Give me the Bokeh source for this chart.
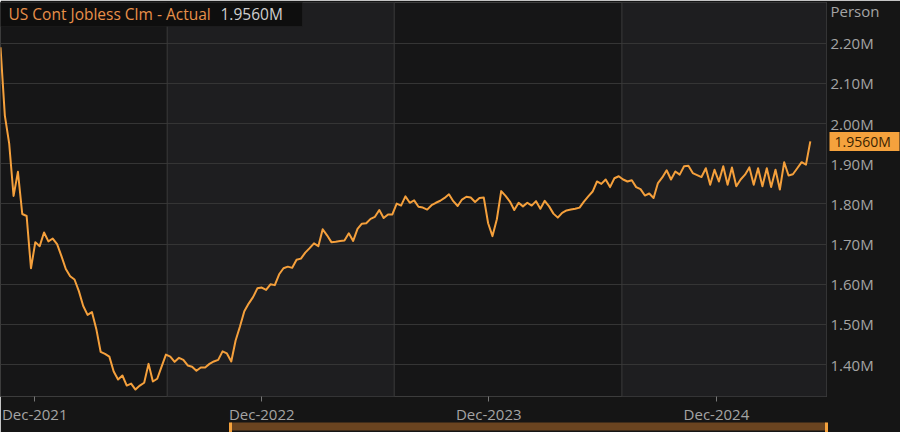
import pandas as pd
from bokeh.plotting import figure
from bokeh.models import (Range1d, FixedTicker, PrintfTickFormatter, DatetimeTickFormatter,
                          BoxAnnotation, Span, Label, LinearAxis, DatetimeAxis)
from bokeh.embed import file_html
from bokeh.resources import INLINE

# ---------------- data ----------------
series_name = "US Cont Jobless Clm - Actual"
unit_label = "Person"
first_week = "2021-11-06"          # week-ending date of the first weekly value
values = [
    2.190, 2.020, 1.950, 1.820, 1.880, 1.775, 1.770, 1.640, 1.705, 1.695,
    1.729, 1.707, 1.714, 1.700, 1.670, 1.638, 1.620, 1.612, 1.583, 1.546,
    1.524, 1.531, 1.489, 1.432, 1.427, 1.420, 1.383, 1.363, 1.373, 1.348,
    1.353, 1.338, 1.348, 1.355, 1.402, 1.358, 1.365, 1.395, 1.425, 1.420,
    1.407, 1.417, 1.412, 1.398, 1.395, 1.385, 1.393, 1.393, 1.402, 1.408,
    1.412, 1.433, 1.428, 1.408, 1.460, 1.495, 1.533, 1.552, 1.568, 1.590,
    1.592, 1.586, 1.600, 1.598, 1.625, 1.640, 1.644, 1.641, 1.661, 1.664,
    1.679, 1.690, 1.702, 1.695, 1.737, 1.722, 1.705, 1.706, 1.708, 1.709,
    1.727, 1.708, 1.738, 1.751, 1.752, 1.763, 1.768, 1.785, 1.765, 1.774,
    1.774, 1.801, 1.796, 1.819, 1.803, 1.809, 1.793, 1.791, 1.786, 1.797,
    1.803, 1.808, 1.815, 1.824, 1.807, 1.795, 1.811, 1.818, 1.816, 1.805,
    1.815, 1.816, 1.752, 1.720, 1.762, 1.832, 1.820, 1.806, 1.785, 1.803,
    1.794, 1.803, 1.796, 1.807, 1.788, 1.808, 1.794, 1.776, 1.766, 1.778,
    1.784, 1.786, 1.788, 1.791, 1.806, 1.819, 1.831, 1.856, 1.850, 1.861,
    1.842, 1.864, 1.869, 1.861, 1.856, 1.859, 1.842, 1.837, 1.821, 1.826,
    1.815, 1.852, 1.866, 1.884, 1.861, 1.881, 1.873, 1.894, 1.895, 1.877,
    1.872, 1.867, 1.889, 1.848, 1.885, 1.856, 1.894, 1.848, 1.891, 1.844,
    1.861, 1.873, 1.891, 1.848, 1.889, 1.844, 1.889, 1.842, 1.885, 1.836,
    1.904, 1.871, 1.874, 1.889, 1.904, 1.898, 1.956,
]
x_tick_dates = ["2021-12-31", "2022-12-31", "2023-12-31", "2024-12-31"]
y_ticks = [1.40, 1.50, 1.60, 1.70, 1.80, 1.90, 2.00, 2.10, 2.20]
band_edges = ["2022-08-01", "2023-08-01", "2024-08-01"]
nav_window = ["2022-11-10", "2025-06-26"]
x_view = ["2021-11-06", "2025-06-26"]
y_view = [1.32074, 2.30155]

dates = pd.date_range(first_week, periods=len(values), freq="7D")
last = values[-1]


def ms(d):
    return pd.Timestamp(d).value / 1e6


# ---------------- styling ----------------
W, H = 900, 432
TB, RB, BB = 2, 74, 34
FW, FH = W - RB, H - TB - BB
FONT = "Open Sans"
AXIS_COL = "#a4a4a4"
LINE_COL = "#f5a03c"
ORANGE = "#f5a23d"
px_per_unit = FH / (y_view[1] - y_view[0])
person_tick = round(y_view[1] - 8 / px_per_unit, 4)

p = figure(width=W, height=H, x_axis_type="datetime", y_axis_location="right",
           x_range=Range1d(pd.Timestamp(x_view[0]), pd.Timestamp(x_view[1])),
           y_range=Range1d(*y_view), output_backend="svg", toolbar_location=None,
           min_border_left=0, min_border_top=TB, min_border_right=RB,
           min_border_bottom=BB, background_fill_color="#161617",
           border_fill_color="#151515", outline_line_color="#3c3c3c")

# alternating background bands
light_spans = [(band_edges[0], band_edges[1]), (band_edges[2], x_view[1])]
for a, b in light_spans:
    p.add_layout(BoxAnnotation(left=ms(a), right=ms(b), fill_color="#1e1e20",
                               fill_alpha=1, line_alpha=0, level="image"))
for e in band_edges:
    p.add_layout(Span(location=ms(e), dimension="height", line_color="#3a3a3a",
                      line_width=1, level="underlay"))

p.xgrid.grid_line_color = None
p.ygrid.grid_line_color = "#353535"
p.ygrid.ticker = FixedTicker(ticks=y_ticks)

# right axis: tick labels and unit label
ya = p.yaxis[0]
ya.ticker = FixedTicker(ticks=y_ticks + [person_tick])
ya.formatter = PrintfTickFormatter(format="%.2fM")
ya.major_label_overrides = {person_tick: unit_label}
ya.major_tick_line_color = None
ya.minor_tick_line_color = None
ya.major_tick_in = 0
ya.major_tick_out = 0
ya.minor_tick_in = 0
ya.minor_tick_out = 0
ya.axis_line_color = None
ya.major_label_standoff = 4
ya.major_label_text_font = FONT
ya.major_label_text_font_size = "15px"
ya.major_label_text_color = AXIS_COL

# second right axis: orange last-value box (a wide minor tick) and its text,
# both pulled back toward the frame edge
W1 = 53
va = LinearAxis(ticker=FixedTicker(ticks=[last], minor_ticks=[last]),
                formatter=PrintfTickFormatter(format="%.4fM"),
                major_tick_in=0, major_tick_out=0, major_tick_line_color=None,
                minor_tick_in=W1, minor_tick_out=17, minor_tick_line_width=19,
                minor_tick_line_color=ORANGE, axis_line_color=None,
                major_label_standoff=5 - W1 - 17, major_label_text_font=FONT,
                major_label_text_font_size="14px", major_label_text_color="#3a2200")
p.add_layout(va, "right")

# bottom axis
xa = p.xaxis[0]
xa.ticker = FixedTicker(ticks=[ms(d) for d in x_tick_dates])
xa.formatter = DatetimeTickFormatter(years="%b-%Y", months="%b-%Y", days="%b-%Y")
xa.major_tick_in = 0
xa.major_tick_out = 5
xa.major_tick_line_color = "#777777"
xa.minor_tick_line_color = None
xa.minor_tick_in = 0
xa.minor_tick_out = 0
xa.axis_line_color = None
xa.major_label_standoff = 2
xa.major_label_text_font = FONT
xa.major_label_text_font_size = "15px"
xa.major_label_text_color = AXIS_COL

# navigator strip under the axis
na = DatetimeAxis(ticker=FixedTicker(ticks=[], minor_ticks=[ms(d) for d in nav_window]),
                  bounds=(ms(nav_window[0]), ms(nav_window[1])),
                  axis_line_color="#6a4420", axis_line_width=8,
                  major_tick_in=0, major_tick_out=0, major_label_standoff=0,
                  major_label_text_font_size="0px",
                  minor_tick_in=4, minor_tick_out=6, minor_tick_line_width=3,
                  minor_tick_line_color=ORANGE)
p.add_layout(na, "below")

# the series
p.line(dates, values, line_color=LINE_COL, line_width=2, line_join="round")

# legend box, top-left
p.add_layout(BoxAnnotation(left=0, right=302, top=FH, bottom=FH - 26,
                           left_units="screen", right_units="screen",
                           top_units="screen", bottom_units="screen",
                           fill_color="#0e0e0e", fill_alpha=1,
                           line_color="#2c2c2c", line_width=1))
p.add_layout(Label(x=8, y=FH - 13, x_units="screen", y_units="screen",
                   text=series_name, text_font=FONT, text_font_size="15.5px",
                   text_color="#e8904a", text_baseline="middle"))
p.add_layout(Label(x=220, y=FH - 13, x_units="screen", y_units="screen",
                   text=f"{last:.4f}M", text_font=FONT, text_font_size="15.5px",
                   text_color="#cfcfcf", text_baseline="middle"))

open("out.html", "w").write(file_html(p, INLINE))
